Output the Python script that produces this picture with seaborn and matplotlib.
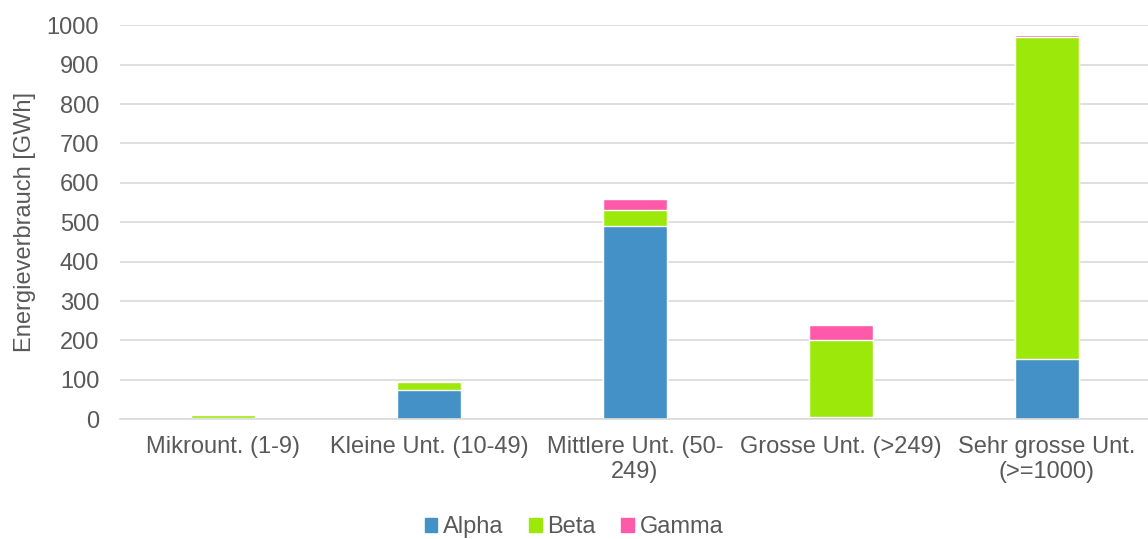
import matplotlib.pyplot as plt
import pandas as pd
import seaborn as sns
from matplotlib.patches import Patch

# Data
categories = ['Mikrount. (1-9)', 'Kleine Unt. (10-49)', 'Mittlere Unt. (50-\n249)',
              'Grosse Unt. (>249)', 'Sehr grosse Unt.\n(>=1000)']
alpha = [3, 75, 490, 6, 152]
beta = [7, 19, 40, 196, 818]
gamma = [1, 0, 28, 38, 5]

colors = {'Alpha': '#4391C7', 'Beta': '#9DE80B', 'Gamma': '#FF5AA9'}
text_color = '#595959'
fs = 17

df = pd.DataFrame({'cat': categories, 'Alpha': alpha, 'Beta': beta, 'Gamma': gamma})
df['ab'] = df['Alpha'] + df['Beta']
df['abg'] = df['ab'] + df['Gamma']

sns.set_theme(style='white')
plt.rcParams['font.family'] = ['Liberation Sans', 'DejaVu Sans']

fig = plt.figure(figsize=(11.48, 5.39), dpi=100)
ax = fig.add_axes([120 / 1148, 1 - 419.3 / 539, 1030 / 1148, 394 / 539])

# stacked bars: draw the totals first, then the lower layers on top
sns.barplot(data=df, x='cat', y='abg', color=colors['Gamma'], width=0.314, ax=ax, saturation=1)
sns.barplot(data=df, x='cat', y='ab', color=colors['Beta'], width=0.314, ax=ax, saturation=1)
sns.barplot(data=df, x='cat', y='Alpha', color=colors['Alpha'], width=0.314, ax=ax, saturation=1)

ax.set_ylim(0, 1000)
ax.set_xlim(-0.5, 4.5)
ax.set_yticks(range(0, 1001, 100))
ax.yaxis.grid(True, color='#D9D9D9', linewidth=1.2)
ax.set_axisbelow(True)
for s in ['top', 'right', 'left']:
    ax.spines[s].set_visible(False)
ax.spines['bottom'].set_color('#D9D9D9')
ax.spines['bottom'].set_linewidth(1.2)

ax.tick_params(axis='both', length=0, labelsize=fs, colors=text_color)
ax.tick_params(axis='y', pad=15)
ax.tick_params(axis='x', pad=12)
ax.set_xlabel('')
ax.set_ylabel('Energieverbrauch [GWh]', fontsize=fs, color=text_color, labelpad=8)

handles = [Patch(color=colors[k], label=k) for k in ['Alpha', 'Beta', 'Gamma']]
fig.legend(handles=handles, loc='center', bbox_to_anchor=(0.5, 1 - 527 / 539), ncol=3,
           frameon=False, fontsize=fs, labelcolor=text_color, handlelength=0.55,
           handleheight=0.55, handletextpad=0.25, columnspacing=1.05)

fig.savefig('out.png', dpi=100)
